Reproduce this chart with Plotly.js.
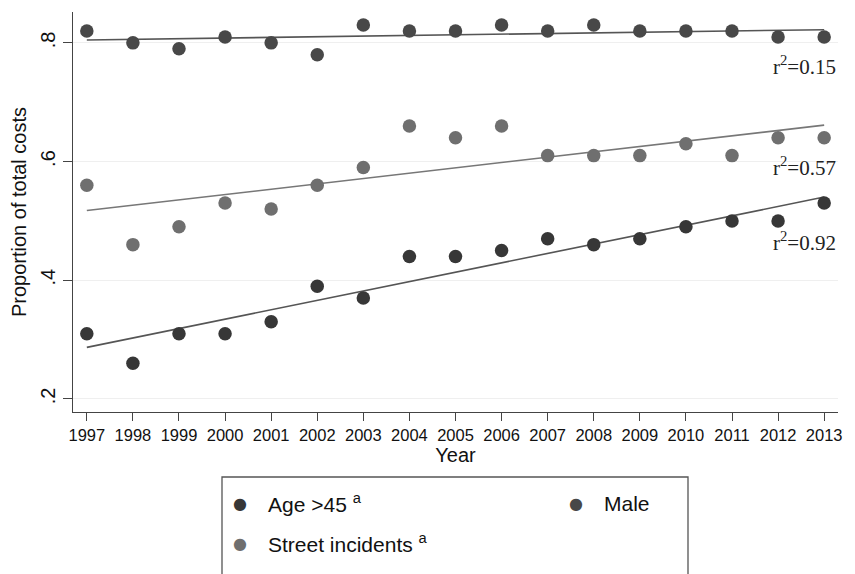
<!DOCTYPE html>
<html><head><meta charset="utf-8">
<script src="https://cdn.plot.ly/plotly-3.0.1.min.js"></script>
<style>html,body{margin:0;padding:0;background:#fff}</style>
</head><body><div id="chart" style="width:855px;height:574px"></div>
<script>
var years = [1997,1998,1999,2000,2001,2002,2003,2004,2005,2006,2007,2008,2009,2010,2011,2012,2013];
var ageOver45 = [0.31,0.26,0.31,0.31,0.33,0.39,0.37,0.44,0.44,0.45,0.47,0.46,0.47,0.49,0.50,0.50,0.53];
var streetIncidents = [0.56,0.46,0.49,0.53,0.52,0.56,0.59,0.66,0.64,0.66,0.61,0.61,0.61,0.63,0.61,0.64,0.64];
var male = [0.82,0.80,0.79,0.81,0.80,0.78,0.83,0.82,0.82,0.83,0.82,0.83,0.82,0.82,0.82,0.81,0.81];
var yTickVals = [0.2,0.4,0.6,0.8];
var yTickText = ['.2','.4','.6','.8'];
var r2Labels = ['r<sup>2</sup>=0.92','r<sup>2</sup>=0.57','r<sup>2</sup>=0.15'];
var r2Y = [0.466,0.592,0.762];

function fit(x,y){
  var n=x.length,sx=0,sy=0,sxx=0,sxy=0;
  for(var i=0;i<n;i++){sx+=x[i];sy+=y[i];sxx+=x[i]*x[i];sxy+=x[i]*y[i];}
  var b=(n*sxy-sx*sy)/(n*sxx-sx*sx), a=(sy-b*sx)/n;
  return x.map(function(v){return a+b*v;});
}
var cAge='#373737', cStreet='#6f6f6f', cMale='#484848', cLine='#555';
var mk = 13.5;
var traces = [
  {x:years,y:fit(years,ageOver45),mode:'lines',line:{color:cLine,width:1.6},showlegend:false,hoverinfo:'skip'},
  {x:years,y:fit(years,streetIncidents),mode:'lines',line:{color:'#777',width:1.6},showlegend:false,hoverinfo:'skip'},
  {x:years,y:fit(years,male),mode:'lines',line:{color:cLine,width:1.6},showlegend:false,hoverinfo:'skip'},
  {x:years,y:ageOver45,mode:'markers',marker:{color:cAge,size:mk},name:'Age >45',showlegend:false},
  {x:years,y:streetIncidents,mode:'markers',marker:{color:cStreet,size:mk},name:'Street incidents',showlegend:false},
  {x:years,y:male,mode:'markers',marker:{color:cMale,size:mk},name:'Male',showlegend:false}
];
var font = {family:'Liberation Sans, Arial, sans-serif',color:'#111'};
var ann = r2Labels.map(function(t,i){
  return {x:1.0,xref:'paper',y:r2Y[i],yref:'y',xanchor:'right',yanchor:'middle',showarrow:false,
    text:t,font:{family:'Liberation Serif, Times New Roman, serif',size:21,color:'#222'}};
});
// manual legend
var legItems = [
  {label:'Age >45 <sup>a</sup>',color:cAge,x:240,y:503},
  {label:'Male',color:cMale,x:576,y:503},
  {label:'Street incidents <sup>a</sup>',color:cStreet,x:240,y:543}
];
legItems.forEach(function(it){
  var px=(it.x-73)/765, py=(412-it.y)/400;
  ann.push({x:px,y:py,xref:'paper',yref:'paper',xanchor:'center',yanchor:'middle',showarrow:false,text:'●',font:{size:16,color:it.color,family:'DejaVu Sans'}});
  ann.push({x:px+26/765,y:py,xref:'paper',yref:'paper',xanchor:'left',yanchor:'middle',showarrow:false,text:it.label,font:{size:21,color:'#111',family:'Liberation Sans, Arial, sans-serif'}});
});
var layout = {
  width:855,height:574,
  margin:{l:73,r:17,t:12,b:162},
  paper_bgcolor:'#fff',plot_bgcolor:'#fff',
  font:font,
  showlegend:false,
  xaxis:{range:[1996.7,2013.3],tickvals:years,ticktext:years.map(String),showgrid:false,zeroline:false,
    showline:true,linecolor:'#444',linewidth:1.3,ticks:'outside',ticklen:8,tickcolor:'#444',
    tickfont:{size:16.5,color:'#111'},title:{text:'Year',font:{size:20},standoff:1}},
  yaxis:{range:[0.178,0.852],tickvals:yTickVals,ticktext:yTickText,tickangle:-90,showgrid:true,gridcolor:'#efefef',zeroline:false,
    showline:true,linecolor:'#444',linewidth:1.3,ticks:'outside',ticklen:9,tickcolor:'#444',
    tickfont:{size:20,color:'#111'},title:{text:'Proportion of total costs',font:{size:20},standoff:4}},
  annotations:ann,
  shapes:[{type:'rect',xref:'paper',yref:'paper',x0:(222-73)/765,x1:(688-73)/765,y0:(412-590)/400,y1:(412-477)/400,
    line:{color:'#555',width:1.3},fillcolor:'rgba(0,0,0,0)'}]
};
Plotly.newPlot('chart',traces,layout,{displayModeBar:false,staticPlot:true});
</script></body></html>
